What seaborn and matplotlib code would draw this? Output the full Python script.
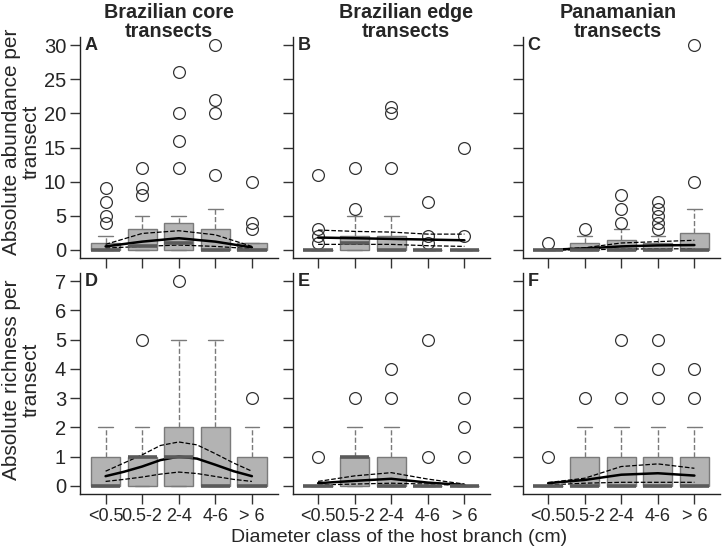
import numpy as np
import pandas as pd
import matplotlib
matplotlib.use("Agg")
import matplotlib.pyplot as plt
import seaborn as sns

sns.set_style("ticks")
plt.rcParams['font.family'] = ['Liberation Sans', 'DejaVu Sans']

classes = ["<0.5", "0.5-2", "2-4", "4-6", "> 6"]
pos = [1, 2, 3, 4, 5]

# boxes: lower quartile, median, upper quartile, upper whisker, outliers
a_q1 = [0, 0, 0, 0, 0]
a_med = [0, 0.5, 1, 0, 0]
a_q3 = [1, 3, 4, 3, 1]
a_hi = [2, 5, 5, 6, 1]
a_out = [[4, 5, 7, 9], [8, 9, 12], [12, 16, 20, 26], [11, 20, 22, 30], [3, 4, 10]]

b_q1 = [0, 0, 0, 0, 0]
b_med = [0, 1, 0, 0, 0]
b_q3 = [0, 2, 2, 0, 0]
b_hi = [0, 5, 5, 0, 0]
b_out = [[1, 2, 3, 11], [6, 12], [12, 20, 21], [1, 2, 7], [2, 15]]

c_q1 = [0, 0, 0, 0, 0]
c_med = [0, 0, 0, 0, 0]
c_q3 = [0, 1, 1.5, 1, 2.5]
c_hi = [0, 2, 3, 2, 6]
c_out = [[1], [3], [4, 6, 8], [3, 4, 5, 6, 7], [10, 30]]

d_q1 = [0, 0, 0, 0, 0]
d_med = [0, 1, 1, 0, 0]
d_q3 = [1, 1, 2, 2, 1]
d_hi = [2, 2, 5, 5, 2]
d_out = [[], [5], [7], [], [3]]

e_q1 = [0, 0, 0, 0, 0]
e_med = [0, 1, 0, 0, 0]
e_q3 = [0, 1, 1, 0, 0]
e_hi = [0, 2, 2, 0, 0]
e_out = [[1], [3], [3, 4], [1, 5], [1, 2, 3]]

f_q1 = [0, 0, 0, 0, 0]
f_med = [0, 0, 0, 0, 0]
f_q3 = [0, 1, 1, 1, 1]
f_hi = [0, 2, 2, 2, 2]
f_out = [[1], [3], [3, 5], [3, 4, 5], [3, 4]]

# fitted model (solid) and confidence limits (dashed)
a_x = [1, 2, 3, 4, 5]
a_fit = [0.5, 1.2, 1.7, 1.2, 0.35]
a_up = [0.8, 2.4, 2.8, 2.2, 0.5]
a_lo = [0.25, 0.5, 0.7, 0.5, 0.15]

b_x = [1, 2, 3, 4, 5]
b_fit = [1.8, 1.7, 1.6, 1.5, 1.4]
b_up = [2.9, 2.7, 2.6, 2.3, 2.3]
b_lo = [0.8, 0.8, 0.8, 0.6, 0.5]

c_x = [1, 2, 3, 4, 5]
c_fit = [0.0, 0.2, 0.5, 0.65, 0.7]
c_up = [0.05, 0.3, 1.0, 1.2, 1.4]
c_lo = [0.0, 0.0, 0.1, 0.15, 0.15]

d_x = [1, 1.5, 2, 2.5, 3, 3.5, 4, 4.5, 5]
d_fit = [0.33, 0.48, 0.66, 0.88, 1.0, 0.93, 0.72, 0.5, 0.33]
d_up = [0.5, 0.78, 1.06, 1.38, 1.5, 1.4, 1.1, 0.78, 0.5]
d_lo = [0.15, 0.22, 0.3, 0.4, 0.47, 0.42, 0.32, 0.22, 0.15]

e_x = [1, 2, 3, 4, 5]
e_fit = [0.09, 0.17, 0.24, 0.11, 0.03]
e_up = [0.15, 0.34, 0.45, 0.23, 0.06]
e_lo = [0.03, 0.06, 0.09, 0.06, 0.01]

f_x = [1, 2, 3, 4, 5]
f_fit = [0.09, 0.2, 0.38, 0.43, 0.35]
f_up = [0.11, 0.26, 0.66, 0.75, 0.6]
f_lo = [0.03, 0.09, 0.12, 0.12, 0.12]

panels = [
    ("A", a_q1, a_med, a_q3, a_hi, a_out, a_x, a_fit, a_up, a_lo),
    ("B", b_q1, b_med, b_q3, b_hi, b_out, b_x, b_fit, b_up, b_lo),
    ("C", c_q1, c_med, c_q3, c_hi, c_out, c_x, c_fit, c_up, c_lo),
    ("D", d_q1, d_med, d_q3, d_hi, d_out, d_x, d_fit, d_up, d_lo),
    ("E", e_q1, e_med, e_q3, e_hi, e_out, e_x, e_fit, e_up, e_lo),
    ("F", f_q1, f_med, f_q3, f_hi, f_out, f_x, f_fit, f_up, f_lo),
]

W, H = 723, 549
fig = plt.figure(figsize=(7.23, 5.49), dpi=100)

lefts = [80, 292.5, 522.5]
tops = [37, 273]

for i, (lab, q1, med, q3, hi, out, fx, fit, up, lo) in enumerate(panels):
    row, col = divmod(i, 3)
    ax = fig.add_axes([lefts[col] / W, 1 - (tops[row] + 221) / H, 197.5 / W, 221 / H])

    stats = [dict(med=m, q1=a, q3=b, whislo=0, whishi=h, fliers=o)
             for a, m, b, h, o in zip(q1, med, q3, hi, out)]
    ax.bxp(stats, positions=pos, widths=0.8, capwidths=0.4, patch_artist=True,
           boxprops=dict(facecolor="#b3b3b3", edgecolor="#7a7a7a", linewidth=1),
           medianprops=dict(color="#5a5a5a", linewidth=2.6, solid_capstyle="butt"),
           whiskerprops=dict(color="#7a7a7a", linestyle="--", linewidth=1),
           capprops=dict(color="#7a7a7a", linewidth=1),
           flierprops=dict(marker="o", markerfacecolor="none", markeredgecolor="#333333",
                           markersize=8.5, markeredgewidth=0.9))

    sns.lineplot(x=fx, y=fit, ax=ax, color="black", linewidth=1.8, legend=False)
    sns.lineplot(x=fx, y=up, ax=ax, color="black", linewidth=0.9, linestyle="--", legend=False)
    sns.lineplot(x=fx, y=lo, ax=ax, color="black", linewidth=0.9, linestyle="--", legend=False)

    ax.set_xlim(0.3, 5.7)
    ax.set_xticks(pos)
    if row == 0:
        ax.set_ylim(-1.2, 31.2)
        ax.set_yticks([0, 5, 10, 15, 20, 25, 30])
        ax.set_xticklabels([])
    else:
        ax.set_ylim(-0.28, 7.28)
        ax.set_yticks(range(8))
        ax.set_xticklabels(classes)
    if col > 0:
        ax.set_yticklabels([])
    ax.set_xlabel("")
    ax.set_ylabel("")
    ax.tick_params(direction="out", length=7, width=1, color="#333333", pad=3)
    ax.tick_params(axis="x", labelsize=13)
    ax.tick_params(axis="y", labelsize=14.5)
    sns.despine(ax=ax)
    for s in ["left", "bottom"]:
        ax.spines[s].set_color("#222222")
        ax.spines[s].set_linewidth(1)
    ax.text(0.025, 1.0, lab, transform=ax.transAxes, ha="left", va="top",
            fontsize=13, fontweight="bold")

titles = ["Brazilian core\ntransects", "Brazilian edge\ntransects", "Panamanian\ntransects"]
title_x = [169, 406, 618]
for t, x in zip(titles, title_x):
    fig.text(x / W, 1 - 22 / H, t, ha="center", va="center", fontsize=14.2,
             fontweight="bold", linespacing=1.05)

fig.text(21 / W, 1 - 142 / H, "Absolute abundance per\ntransect", rotation=90,
         ha="center", va="center", fontsize=15, linespacing=1.05)
fig.text(21 / W, 1 - 380 / H, "Absolute richness per\ntransect", rotation=90,
         ha="center", va="center", fontsize=15, linespacing=1.05)
fig.text(399 / W, 1 - 537 / H, "Diameter class of the host branch (cm)",
         ha="center", va="center", fontsize=14)

fig.savefig("out.png", dpi=100)
